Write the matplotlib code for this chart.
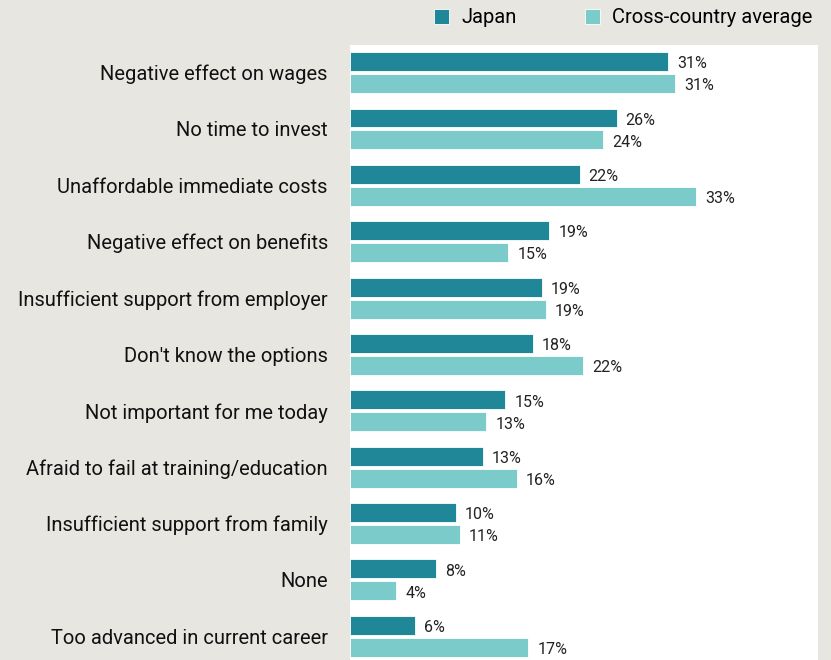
import matplotlib.pyplot as plt
import matplotlib
import numpy as np

matplotlib.rcParams["font.family"] = ['Roboto', 'DejaVu Sans']

categories = ['Negative effect on wages', 'No time to invest', 'Unaffordable immediate costs',
              'Negative effect on benefits', 'Insufficient support from employer',
              "Don't know the options", 'Not important for me today',
              'Afraid to fail at training/education', 'Insufficient support from family',
              'None', 'Too advanced in current career']
japan = [30.3, 25.4, 21.9, 19.0, 18.3, 17.4, 14.8, 12.7, 10.1, 8.2, 6.2]
cross = [31.0, 24.1, 33.0, 15.1, 18.7, 22.2, 13.0, 15.9, 10.5, 4.4, 17.0]
japan_labels = ['31%', '26%', '22%', '19%', '19%', '18%', '15%', '13%', '10%', '8%', '6%']
cross_labels = ['31%', '24%', '33%', '15%', '19%', '22%', '13%', '16%', '11%', '4%', '17%']

c_japan = '#1f8797'
c_cross = '#7ccbcb'
bg = '#e8e6e1'

fig = plt.figure(figsize=(8.31, 6.6), dpi=100, facecolor=bg)
ax = fig.add_axes([350 / 831, 0, 468 / 831, 615 / 660])
ax.set_facecolor('white')

y = np.arange(len(categories))
h = 0.337
off = 0.195
b1 = ax.barh(y - off, japan, height=h, color=c_japan, edgecolor='white', linewidth=0.6, label='Japan')
b2 = ax.barh(y + off, cross, height=h, color=c_cross, edgecolor='white', linewidth=0.6,
             label='Cross-country average')

for yy, v, lab in zip(y, japan, japan_labels):
    ax.text(v + 0.85, yy - off + 0.04, lab, va='center', ha='left', fontsize=11.5, color='#222222')
for yy, v, lab in zip(y, cross, cross_labels):
    ax.text(v + 0.85, yy + off + 0.04, lab, va='center', ha='left', fontsize=11.5, color='#222222')

ax.set_xlim(0, 44.6)
ax.set_ylim(10.42, -0.49)
ax.set_yticks(y)
ax.set_yticklabels(categories, fontsize=14.5, color='#111111')
ax.tick_params(axis='y', length=0, pad=16)
ax.set_xticks([])
for s in ax.spines.values():
    s.set_visible(False)

fig.legend(handles=[b1, b2], loc='upper right', bbox_to_anchor=(1.0, 1.015), ncol=2,
           frameon=False, fontsize=14.5, handlelength=0.75, handleheight=0.75,
           columnspacing=3.4, handletextpad=0.6)

plt.savefig('out.png', facecolor=bg)
